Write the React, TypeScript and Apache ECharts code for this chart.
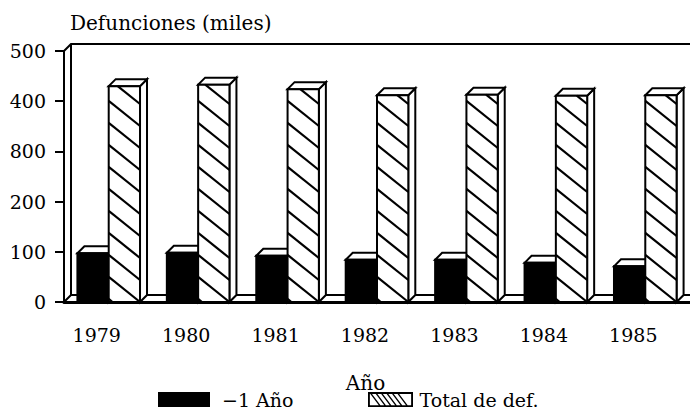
import React, { useEffect, useRef } from "react";
import * as echarts from "echarts";

const years = ["1979", "1980", "1981", "1982", "1983", "1984", "1985"];
const infantDeaths = [97, 98, 92, 84, 84, 78, 71];
const totalDeaths = [430, 433, 424, 412, 413, 411, 412];
const yTickLabels = ["0", "100", "200", "800", "400", "500"];
const seriesNames = ["−1 Año", "Total de def."];
const yAxisTitle = "Defunciones (miles)";
const xAxisTitle = "Año";

const FONT = "'DejaVu Serif', 'Liberation Serif', serif";
const DEPTH = 7;
const BAR_RATIO = 0.35;
const HATCH_GAP = 22;
const HATCH_SLOPE = 0.8;

function hatchLines(x0: number, x1: number, top: number, bottom: number, style: any) {
  const out: any[] = [];
  for (let k = -3; k < 200; k++) {
    const yk = bottom - HATCH_GAP * k;
    if (yk < top) break;
    const xa = Math.max(x0, x1 - (yk - top) / HATCH_SLOPE);
    const xb = Math.min(x1, x1 - (yk - bottom) / HATCH_SLOPE);
    if (xa < xb) {
      out.push({
        type: "line",
        shape: {
          x1: xa,
          y1: yk - HATCH_SLOPE * (x1 - xa),
          x2: xb,
          y2: yk - HATCH_SLOPE * (x1 - xb),
        },
        style,
      });
    }
  }
  return out;
}

function make3DBar(kind: "solid" | "hatch") {
  return (params: any, api: any) => {
    const idx = api.value(0);
    const val = api.value(1);
    const top = api.coord([idx, val]);
    const base = api.coord([idx, 0]);
    const cx = top[0];
    const yTop = top[1];
    const yBot = base[1];
    const band = api.size([1, 0])[0];
    const bw = band * BAR_RATIO;
    const x0 = kind === "solid" ? cx - bw : cx;
    const x1 = x0 + bw;
    const d = DEPTH;
    const faceFill = kind === "solid" ? "#000" : "#fff";
    const children: any[] = [
      {
        type: "polygon",
        shape: { points: [[x1, yTop], [x1 + d, yTop - d], [x1 + d, yBot - d], [x1, yBot]] },
        style: { fill: faceFill, stroke: "#000", lineWidth: 2 },
      },
      {
        type: "polygon",
        shape: { points: [[x0, yTop], [x0 + d, yTop - d], [x1 + d, yTop - d], [x1, yTop]] },
        style: { fill: "#fff", stroke: "#000", lineWidth: 2 },
      },
      {
        type: "rect",
        shape: { x: x0, y: yTop, width: bw, height: yBot - yTop },
        style: { fill: faceFill, stroke: "#000", lineWidth: 2 },
      },
    ];
    if (kind === "hatch") {
      children.push(...hatchLines(x0, x1, yTop, yBot, { stroke: "#000", lineWidth: 2.2 }));
    }
    return { type: "group", children };
  };
}

function frameRender(params: any) {
  const cs = params.coordSys;
  const x = cs.x, y = cs.y, w = cs.width, h = cs.height, d = DEPTH;
  const st = { stroke: "#000", lineWidth: 2, fill: "none" };
  return {
    type: "group",
    children: [
      { type: "polyline", shape: { points: [[x, y], [x + d, y - d], [x + w, y - d]] }, style: st },
      { type: "line", shape: { x1: x + d, y1: y - d, x2: x + d, y2: y + h - d }, style: st },
      { type: "polyline", shape: { points: [[x, y + h], [x + d, y + h - d], [x + w, y + h - d]] }, style: st },
    ],
  };
}

function hatchIconPath() {
  let p = "M0 0 H48 V16 H0 Z M2 2 V14 H46 V2 Z";
  for (let a = 2.5; a <= 35; a += 5.8) {
    p += ` M${a} 2 L${a + 1.8} 2 L${a + 10.8} 14 L${a + 9} 14 Z`;
  }
  return "path://" + p;
}

export default function App() {
  const ref = useRef<HTMLDivElement>(null);
  useEffect(() => {
    if (!ref.current) return;
    const chart = echarts.init(ref.current, undefined, { renderer: "svg" });
    const numText = { fontFamily: FONT, fontSize: 19, color: "#000" };
    const wordText = { fontFamily: FONT, fontSize: 20, color: "#000" };
    const legendText = { fontFamily: FONT, fontSize: 19, color: "#000" };
    chart.setOption({
      animation: false,
      backgroundColor: "#fff",
      grid: { left: 64, top: 51, width: 627, height: 251, containLabel: false },
      legend: [
        {
          data: [{ name: seriesNames[0], icon: "rect", itemStyle: { color: "#000" } }],
          left: 158,
          top: 390,
          padding: 0,
          itemWidth: 52,
          itemHeight: 15,
          selectedMode: false,
          textStyle: { ...legendText, padding: [0, 0, 0, 7] },
        },
        {
          data: [{ name: seriesNames[1], icon: hatchIconPath(), itemStyle: { color: "#000" } }],
          left: 368,
          top: 390,
          padding: 0,
          itemWidth: 48,
          itemHeight: 15,
          selectedMode: false,
          textStyle: { ...legendText },
        },
      ],
      xAxis: {
        type: "category",
        data: years,
        boundaryGap: true,
        name: xAxisTitle,
        nameLocation: "middle",
        nameGap: 71,
        nameTextStyle: { ...wordText, padding: [0, 23, 0, 0] },
        axisLine: { lineStyle: { color: "#000", width: 3 } },
        axisTick: { alignWithLabel: true, length: 9, lineStyle: { color: "#000", width: 2 } },
        axisLabel: { ...numText, margin: 23, padding: [0, 24, 0, 0] },
        splitLine: { show: false },
      },
      yAxis: {
        type: "value",
        min: 0,
        max: 500,
        interval: 100,
        name: yAxisTitle,
        nameLocation: "end",
        nameGap: 18,
        nameTextStyle: { ...wordText, align: "left", padding: [0, 0, 0, 6] },
        axisLine: { show: true, lineStyle: { color: "#000", width: 2 } },
        axisTick: { show: true, length: 9, lineStyle: { color: "#000", width: 2 } },
        axisLabel: {
          ...numText,
          margin: 18,
          formatter: (v: number) => yTickLabels[Math.round(v / 100)] ?? String(v),
        },
        splitLine: { show: false },
      },
      series: [
        {
          name: "frame",
          type: "custom",
          silent: true,
          z: 1,
          data: [[0, 0]],
          encode: { x: 0, y: 1 },
          renderItem: frameRender,
        },
        {
          name: seriesNames[0],
          type: "custom",
          z: 2,
          itemStyle: { color: "#000" },
          data: infantDeaths.map((v, i) => [i, v]),
          encode: { x: 0, y: 1 },
          renderItem: make3DBar("solid"),
        },
        {
          name: seriesNames[1],
          type: "custom",
          z: 3,
          itemStyle: { color: "#000" },
          data: totalDeaths.map((v, i) => [i, v]),
          encode: { x: 0, y: 1 },
          renderItem: make3DBar("hatch"),
        },
      ],
    });
    return () => chart.dispose();
  }, []);
  return (
    <div
      ref={ref}
      style={{ position: "fixed", left: 0, top: 0, width: 690, height: 411, background: "#fff" }}
    />
  );
}
